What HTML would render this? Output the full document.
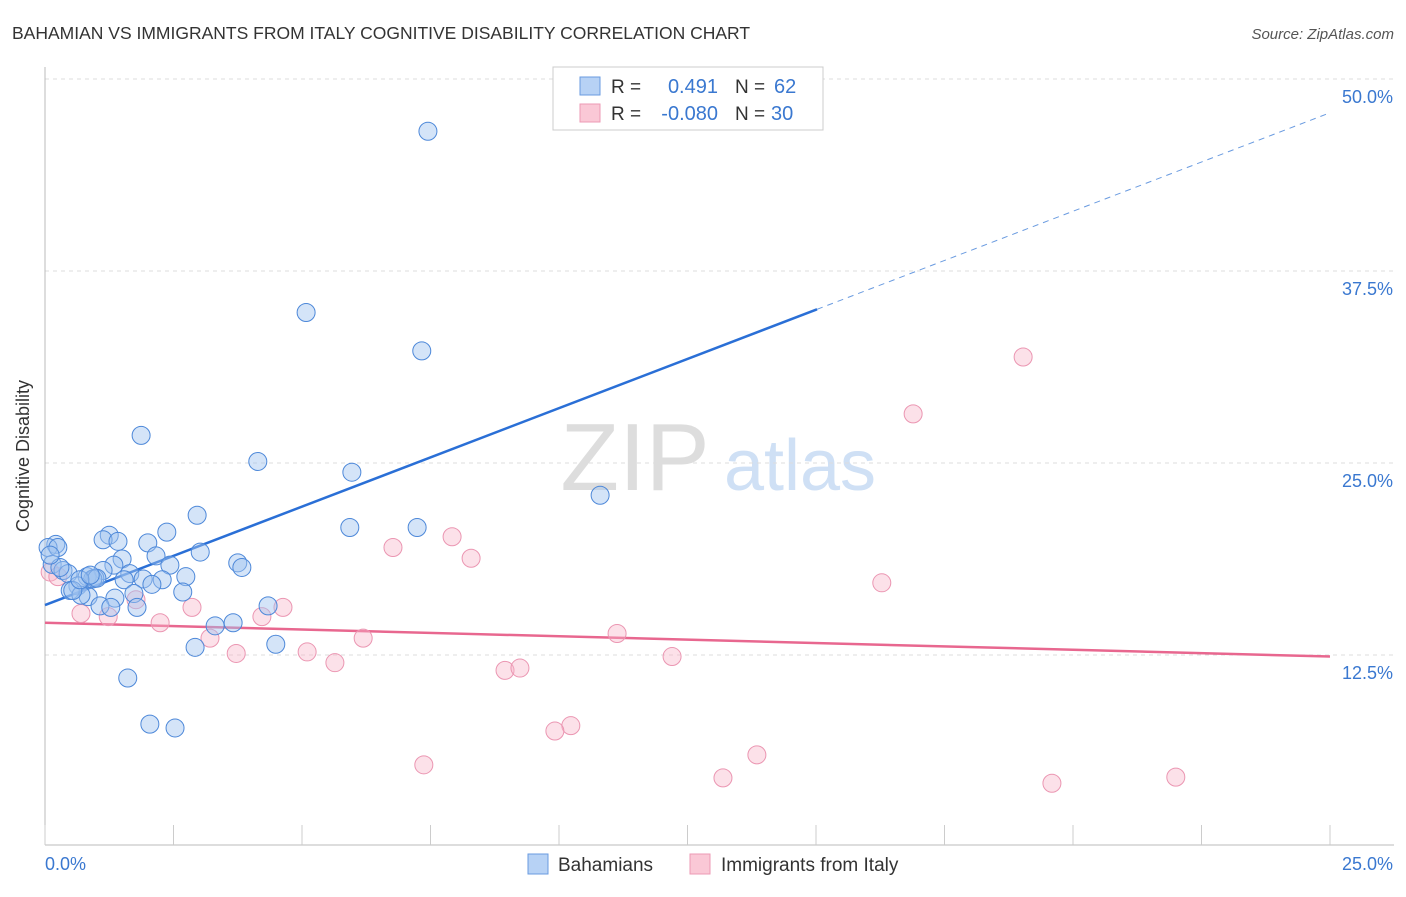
<!DOCTYPE html>
<html><head><meta charset="utf-8"><style>
body{margin:0;background:#fff;font-family:"Liberation Sans",sans-serif;}
svg text{font-family:"Liberation Sans",sans-serif;}
</style></head><body>
<svg id="c" width="1406" height="892" xmlns="http://www.w3.org/2000/svg">
<text x="12" y="39" font-size="17.5" fill="#333">BAHAMIAN VS IMMIGRANTS FROM ITALY COGNITIVE DISABILITY CORRELATION CHART</text>
<text x="1394" y="39" font-size="15" fill="#555" text-anchor="end" font-style="italic">Source: ZipAtlas.com</text>
<text x="29" y="456" font-size="18" fill="#333" text-anchor="middle" transform="rotate(-90 29 456)">Cognitive Disability</text>
<g><text x="635" y="490" font-size="96" fill="#ddd" font-family="Liberation Serif" text-anchor="middle">ZIP</text><text x="800" y="490" font-size="72" fill="#cfe0f5" text-anchor="middle">atlas</text></g>
<g id="grid"></g><g id="axes"></g><g id="trend"></g><g id="pts"></g>
<g>
<rect x="553" y="67" width="270" height="63" fill="#fff" stroke="#ccc"/>
<rect x="580" y="77" width="20" height="18" fill="#b7d2f5" stroke="#6a9be0"/>
<rect x="580" y="104" width="20" height="18" fill="#fac8d6" stroke="#ec9ab4"/>
<text x="611" y="93" font-size="19" fill="#333">R =</text><text x="718" y="93" font-size="20" fill="#3a78d0" text-anchor="end">0.491</text>
<text x="735" y="93" font-size="19" fill="#333">N =</text><text x="774" y="93" font-size="20" fill="#3a78d0">62</text>
<text x="611" y="120" font-size="19" fill="#333">R =</text><text x="718" y="120" font-size="20" fill="#3a78d0" text-anchor="end">-0.080</text>
<text x="735" y="120" font-size="19" fill="#333">N =</text><text x="771" y="120" font-size="20" fill="#3a78d0">30</text>
</g>
<g>
<rect x="528" y="854" width="20" height="20" fill="#b7d2f5" stroke="#6a9be0"/>
<text x="558" y="871" font-size="19" fill="#333">Bahamians</text>
<rect x="690" y="854" width="20" height="20" fill="#fac8d6" stroke="#ec9ab4"/>
<text x="721" y="871" font-size="19" fill="#333">Immigrants from Italy</text>
</g>
</svg>
<script>
const yTicks=[12.5,25,37.5,50];
const yTickLabels=["12.5%","25.0%","37.5%","50.0%"];
const xTickLabels=["0.0%","25.0%"];
const blueX=[7.45,5.08,7.33,1.87,4.14,5.97,10.8,2.96,5.93,7.24,2.37,1.25,1.13,1.42,2.0,0.21,0.06,0.25,3.02,1.5,2.16,3.75,3.83,0.14,1.34,2.43,0.35,0.45,1.13,1.65,0.82,0.97,0.93,1.01,1.91,2.28,2.74,1.54,2.08,0.64,0.49,0.84,0.7,1.73,2.68,0.54,1.36,1.07,1.28,1.79,4.34,3.66,3.31,2.92,4.49,1.61,2.04,2.53,0.29,0.68,0.88,0.1];
const blueY=[46.6,34.8,32.3,26.8,25.1,24.4,22.9,21.6,20.8,20.8,20.5,20.3,20.0,19.9,19.8,19.7,19.5,19.5,19.2,18.75,18.95,18.5,18.2,18.4,18.35,18.35,18.0,17.8,18.0,17.8,17.6,17.5,17.45,17.5,17.45,17.4,17.6,17.4,17.1,17.0,16.7,16.3,16.4,16.5,16.6,16.7,16.2,15.7,15.6,15.6,15.7,14.6,14.4,13.0,13.2,11.0,8.0,7.75,18.2,17.4,17.7,19.0];
const pinkX=[19.03,16.89,7.92,6.77,8.29,16.28,0.1,0.25,1.77,2.86,4.63,0.7,1.23,2.24,4.22,3.21,6.19,11.13,3.72,5.1,12.2,5.64,8.95,9.24,10.23,9.92,7.37,13.85,13.19,19.59,22.0];
const pinkY=[31.9,28.2,20.2,19.5,18.8,17.2,17.9,17.6,16.1,15.6,15.6,15.2,15.0,14.6,15.0,13.6,13.6,13.9,12.6,12.7,12.4,12.0,11.5,11.65,7.9,7.55,5.35,6.0,4.5,4.15,4.55];
const blueTrend=[15.75,47.8];
const pinkTrend=[14.6,12.4];
const X=v=>45+v/25*1285, Y=v=>847-v/50*768;
const NS="http://www.w3.org/2000/svg";
function mk(p,t,a){const e=document.createElementNS(NS,t);for(const k in a)e.setAttribute(k,a[k]);document.getElementById(p).appendChild(e);return e;}
yTicks.forEach((t,i)=>{
 const g=mk('grid','line',{x1:45,x2:1394,y1:Y(t),y2:Y(t),stroke:'#ddd','stroke-dasharray':'4,4'});
 
 
 const l=mk('grid','text',{x:1393,y:Y(t)+24,'font-size':18,fill:'#3a78d0','text-anchor':'end'});
 l.textContent=yTickLabels[i];
 
 
});
const ax=mk('axes','line',{x1:45,x2:45,y1:67,y2:845,stroke:'#bbb'});


const bx=mk('axes','line',{x1:45,x2:1394,y1:845,y2:845,stroke:'#bbb'});


for(let i=0;i<=10;i++){const t=mk('axes','line',{x1:X(i*2.5),x2:X(i*2.5),y1:825,y2:845,stroke:'#ccc'});
 
 }
const x0=mk('axes','text',{x:45,y:870,'font-size':18,fill:'#3a78d0'});x0.textContent=xTickLabels[0];


const x1=mk('axes','text',{x:1393,y:870,'font-size':18,fill:'#3a78d0','text-anchor':'end'});x1.textContent=xTickLabels[1];


// trends
const bxe=15.02, byAt=v=>blueTrend[0]+(blueTrend[1]-blueTrend[0])*v/25;
const b1=mk('trend','line',{x1:X(0),y1:Y(byAt(0)),x2:X(bxe),y2:Y(byAt(bxe)),stroke:'#2a6fd6','stroke-width':2.5});


const b2=mk('trend','line',{x1:X(bxe),y1:Y(byAt(bxe)),x2:X(25),y2:Y(byAt(25)),stroke:'#6a9be0','stroke-width':1,'stroke-dasharray':'6,5'});


const p1=mk('trend','line',{x1:X(0),y1:Y(pinkTrend[0]),x2:X(25),y2:Y(pinkTrend[1]),stroke:'#e8678f','stroke-width':2.5});


pinkX.forEach((v,i)=>{const c=mk('pts','circle',{cx:X(v),cy:Y(pinkY[i]),r:9,fill:'rgba(248,180,200,0.4)',stroke:'#eb96b2','stroke-width':1});
 
 });
blueX.forEach((v,i)=>{const c=mk('pts','circle',{cx:X(v),cy:Y(blueY[i]),r:9,fill:'rgba(160,196,240,0.45)',stroke:'#4d88d9','stroke-width':1});
 
 });
</script>
</body></html>
